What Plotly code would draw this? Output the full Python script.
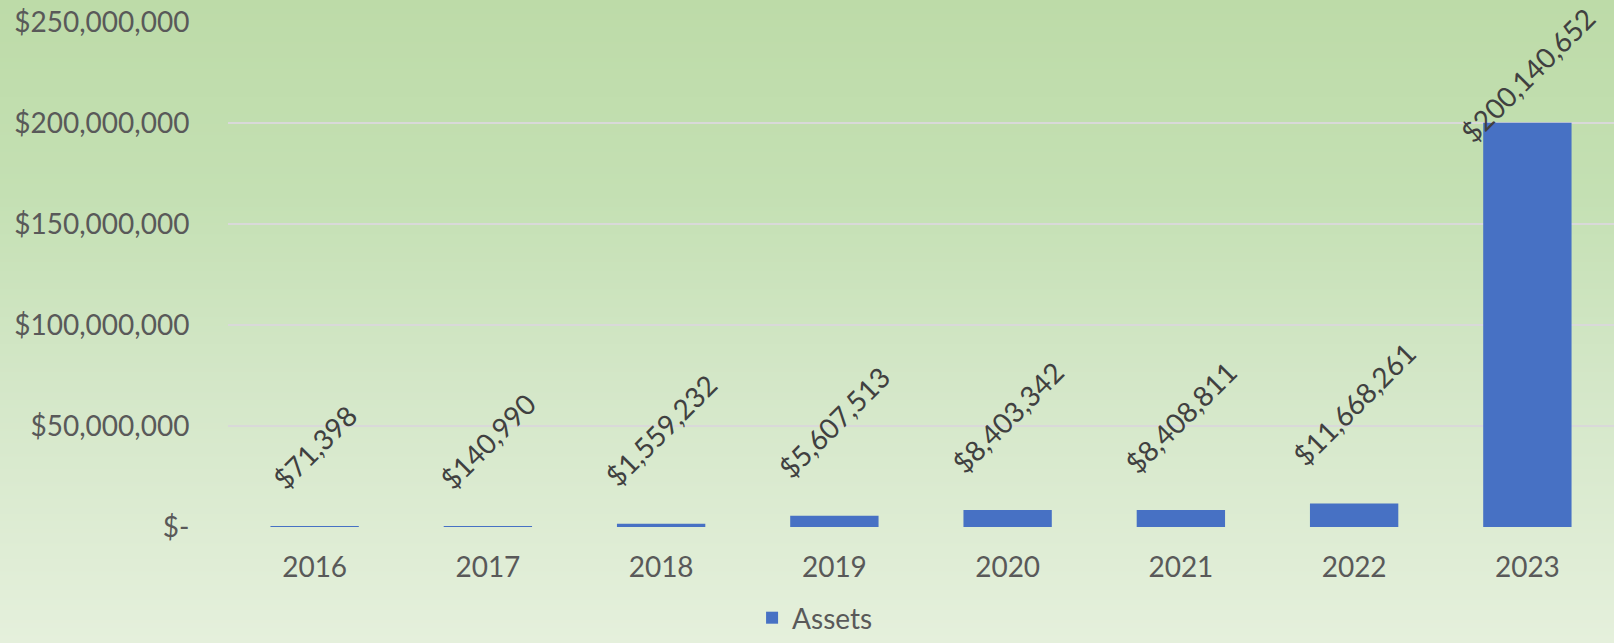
import base64, struct, zlib
import plotly.graph_objects as go

years = ["2016", "2017", "2018", "2019", "2020", "2021", "2022", "2023"]
assets = [71398, 140990, 1559232, 5607513, 8403342, 8408811, 11668261, 200140652]
tick_vals = [0, 50000000, 100000000, 150000000, 200000000, 250000000]
tick_text = ["$-", "$50,000,000", "$100,000,000", "$150,000,000", "$200,000,000", "$250,000,000"]
series_name = "Assets"

W, H = 1614, 643
ML, MR, MT, MB = 228, 0, 22, 116
FONT = "Lato"
TXT = "#595959"
FS = 28

# background gradient PNG (1 px wide)
stops = [(0.0, (189, 219, 168)), (0.3, (196, 224, 179)), (0.6, (212, 231, 200)), (1.0, (229, 240, 220))]
def col(t):
    for (a, ca), (b, cb) in zip(stops[:-1], stops[1:]):
        if a <= t <= b:
            f = (t - a) / (b - a)
            return tuple(int(round(ca[i] + (cb[i] - ca[i]) * f)) for i in range(3))
    return stops[-1][1]
raw = b"".join(b"\x00" + bytes(col(r / (H - 1))) for r in range(H))
def chunk(tag, data):
    c = struct.pack(">I", len(data)) + tag + data
    return c + struct.pack(">I", zlib.crc32(tag + data) & 0xffffffff)
png = b"\x89PNG\r\n\x1a\n" + chunk(b"IHDR", struct.pack(">IIBBBBB", 1, H, 8, 2, 0, 0, 0)) \
      + chunk(b"IDAT", zlib.compress(raw)) + chunk(b"IEND", b"")
bg_uri = "data:image/png;base64," + base64.b64encode(png).decode()

pw, ph = W - ML - MR, H - MT - MB

fig = go.Figure()
fig.add_trace(go.Bar(
    x=years, y=assets, name=series_name,
    marker=dict(color="#4771C4", line=dict(width=0)),
    showlegend=True,
))

# data labels: annotation x uses the category index on the category axis
ymax = tick_vals[-1]
for i, v in enumerate(assets):
    label = f"${v:,}"
    if v > 0.6 * ymax:
        fig.add_annotation(x=i, y=v, text=label, textangle=-45, showarrow=False,
                           xanchor="center", yanchor="middle", yshift=48,
                           font=dict(family=FONT, size=FS, color="#404040"))
    else:
        fig.add_annotation(x=i, y=v, text=label, textangle=-45, showarrow=False,
                           xanchor="center", yanchor="bottom", yshift=28,
                           font=dict(family=FONT, size=FS, color="#404040"))

fig.add_layout_image(dict(
    source=bg_uri, xref="paper", yref="paper",
    x=-ML / pw, y=1 + MT / ph, sizex=W / pw, sizey=H / ph,
    xanchor="left", yanchor="top", sizing="stretch", layer="below",
))

fig.update_layout(
    width=W, height=H,
    margin=dict(l=ML, r=MR, t=MT, b=MB, autoexpand=False),
    paper_bgcolor="#d4e7c8", plot_bgcolor="rgba(0,0,0,0)",
    font=dict(family=FONT, size=FS, color=TXT),
    bargap=0.49,
    showlegend=True,
    legend=dict(orientation="h", xref="container", yref="container",
                x=0.505, xanchor="center", y=0.0, yanchor="bottom",
                font=dict(family=FONT, size=FS, color=TXT),
                bgcolor="rgba(0,0,0,0)"),
    xaxis=dict(type="category", range=[-0.5, len(years) - 0.5],
               showgrid=False, showline=False, zeroline=False,
               tickfont=dict(family=FONT, size=FS, color=TXT),
               ticks="outside", ticklen=15, tickcolor="rgba(0,0,0,0)", automargin=False),
    yaxis=dict(range=[0, ymax], tickvals=tick_vals, ticktext=tick_text,
               showgrid=True, gridcolor="#d9d9d9", gridwidth=2,
               zeroline=False, showline=False, automargin=False,
               ticks="outside", ticklen=32, tickcolor="rgba(0,0,0,0)",
               tickfont=dict(family=FONT, size=FS, color=TXT)),
)

post = "document.body.style.margin='0';"
fig.write_html("out.html", post_script=post, config={"displayModeBar": False})
